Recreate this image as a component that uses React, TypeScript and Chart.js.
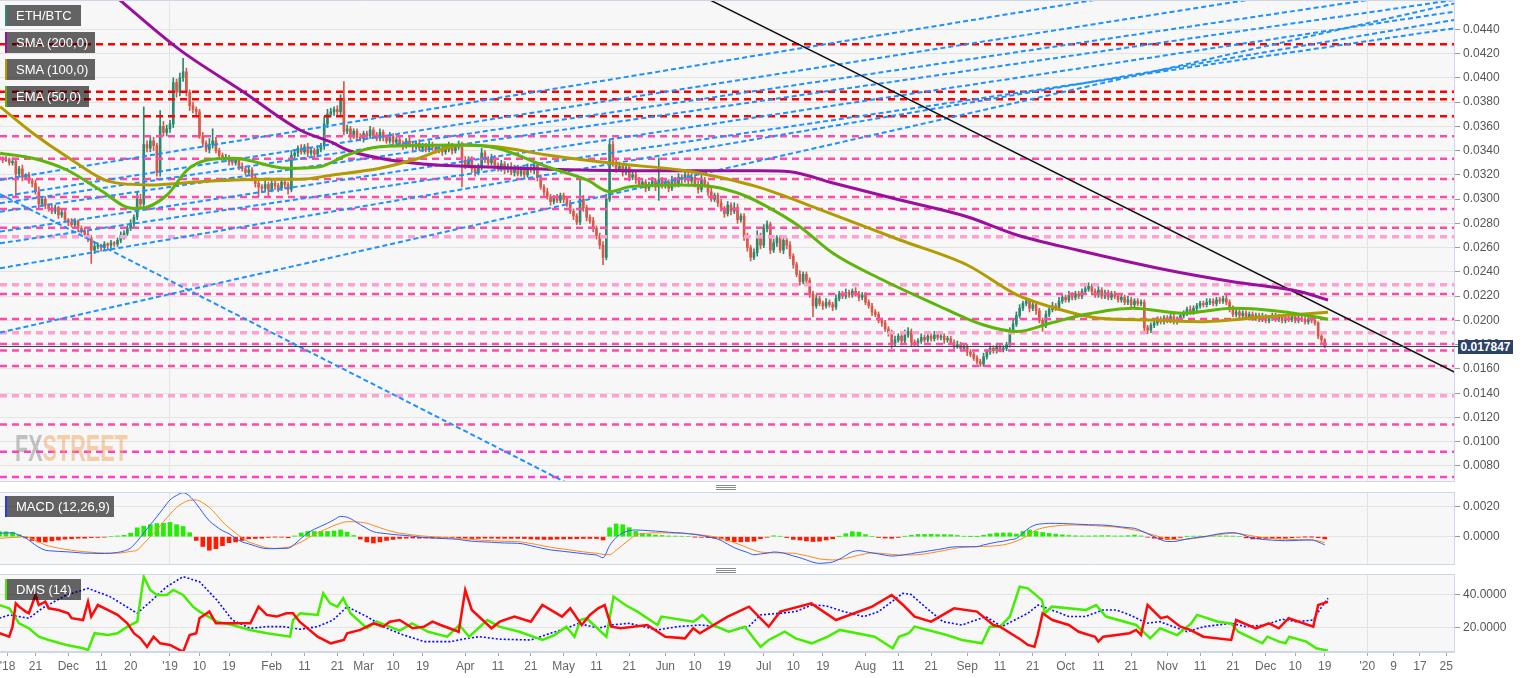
import React, { useEffect, useRef } from "react";
import { Chart, registerables } from "chart.js";
Chart.register(...registerables);

// ---------- axis ranges (days from 1 Jan 2019, prices in 1e-4 BTC) ----------
const X_MIN = -51.82;
const X_MAX = 391.4;
const FIRST_DAY = -52;
const MAIN_MIN = 66.8;
const MAIN_MAX = 464.15;
const MACD_MIN = -18.87;
const MACD_MAX = 29.8;
const DMS_MIN = 5.03;
const DMS_MAX = 52.3;

const mainTicks = [80, 100, 120, 140, 160, 180, 200, 220, 240, 260, 280, 300, 320, 340, 360, 380, 400, 420, 440];
const macdTicks = [0, 20];
const dmsTicks = [20, 40];
const yearTicks = [0, 365];
const xTickDays = [-49.5, -41, -31, -21, -12, 0, 9, 18, 31, 41, 51, 59, 68, 77, 90, 100, 110, 120, 130, 140, 151, 160, 169, 181, 190, 199, 212, 222, 232, 243, 253, 263, 273, 283, 293, 304, 314, 324, 334, 343, 352, 365, 373, 381, 389];
const xTickLabels = ["'18", "21", "Dec", "11", "20", "'19", "10", "19", "Feb", "11", "21", "Mar", "10", "19", "Apr", "11", "21", "May", "11", "21", "Jun", "10", "19", "Jul", "10", "19", "Aug", "11", "21", "Sep", "11", "21", "Oct", "11", "21", "Nov", "11", "21", "Dec", "10", "19", "'20", "9", "17", "25"];

// ---------- daily candles ETH/BTC (x1e-4) ----------
const firstOpen = 335;
const closes = [
  334, 332, 333, 330, 331, 321, 325, 318, 320, 315,
  313, 306, 296, 300, 295, 292, 290, 293, 287, 289,
  283, 281, 279, 282, 276, 274, 271, 268, 258, 261,
  262, 260, 263, 262, 264, 263, 266, 270, 272, 276,
  280, 285, 300, 296, 345, 342, 348, 344, 322, 360,
  355, 358, 362, 396, 388, 400, 405, 388, 377, 374,
  372, 352, 346, 341, 345, 348, 340, 336, 333, 334,
  331, 330, 332, 327, 325, 322, 324, 318, 313, 310,
  309, 312, 308, 313, 311, 309, 314, 312, 308, 336,
  338, 342, 339, 343, 338, 340, 337, 341, 344, 362,
  370, 372, 374, 372, 383, 356, 358, 352, 356, 351,
  350, 354, 352, 357, 353, 350, 355, 351, 348, 352,
  347, 349, 346, 344, 348, 345, 343, 346, 342, 344,
  341, 345, 343, 340, 342, 339, 341, 344, 340, 343,
  345, 332, 328, 333, 325, 322, 326, 338, 333, 330,
  334, 328, 325, 329, 324, 327, 322, 326, 321, 324,
  320, 326, 324, 328, 318, 310, 306, 302, 298, 301,
  299, 303, 300, 296, 290, 286, 281, 300, 293, 285,
  282, 276, 270, 262, 252, 300, 345, 330, 325, 327,
  322, 326, 318, 320, 316, 312, 314, 309, 312, 315,
  310, 316, 311, 314, 309, 316, 312, 318, 316, 320,
  315, 318, 312, 308, 316, 312, 306, 300, 303, 297,
  292, 288, 295, 290, 293, 283, 286, 269, 260, 252,
  256, 270, 262, 276, 279, 258, 264, 268, 258, 266,
  262, 253, 246, 238, 232, 238, 233, 222, 212, 218,
  214, 212, 215, 213, 211, 218, 222, 220, 223, 221,
  224, 222, 219, 221, 215, 212, 207, 205, 200, 198,
  193, 190, 181, 184, 187, 183, 188, 191, 182, 181,
  183, 186, 184, 187, 185, 188, 186, 187, 184, 185,
  182, 179, 180, 177, 178, 174, 172, 169, 166, 164,
  170, 174, 177, 175, 178, 176, 177, 180, 191, 197,
  204, 210, 214, 216, 210, 213, 208, 200, 196, 205,
  209, 212, 210, 216, 219, 217, 221, 219, 222, 220,
  224, 226, 228, 224, 221, 225, 220, 223, 219, 222,
  220, 217, 219, 215, 217, 213, 216, 214, 215, 194,
  192, 196, 198, 201, 199, 202, 200, 203, 199, 201,
  204, 206, 209, 207, 210, 212, 214, 213, 215, 216,
  214, 217, 216, 218, 215, 210, 205, 207, 204, 206,
  203, 205, 202, 204, 201, 203, 200, 202, 204, 201,
  203, 200, 202, 201, 203, 200, 202, 201, 199, 201,
  200, 198, 187, 184, 178.47,
];
const highWicks = [
  2, 1, 2, 1, 3, 2, 2, 3, 1, 2,
  2, 3, 4, 2, 2, 1, 3, 2, 1, 2,
  2, 1, 3, 2, 1, 2, 2, 3, 2, 3,
  2, 1, 2, 1, 2, 1, 2, 3, 2, 2,
  3, 2, 6, 4, 31, 3, 4, 3, 2, 13,
  4, 3, 3, 4, 3, 4, 11, 3, 2, 3,
  2, 2, 3, 2, 5, 10, 3, 2, 2, 3,
  2, 3, 2, 2, 3, 2, 3, 2, 2, 3,
  2, 3, 2, 3, 2, 2, 3, 2, 2, 4,
  3, 2, 3, 2, 3, 2, 2, 3, 2, 6,
  4, 3, 2, 3, 3, 14, 3, 2, 2, 2,
  3, 2, 2, 3, 2, 2, 3, 2, 2, 3,
  2, 2, 3, 2, 2, 3, 2, 2, 3, 2,
  2, 3, 2, 2, 3, 2, 2, 3, 2, 2,
  3, 2, 3, 2, 2, 3, 3, 4, 2, 2,
  3, 2, 2, 3, 2, 2, 3, 2, 2, 3,
  2, 3, 2, 3, 2, 2, 2, 3, 2, 2,
  3, 2, 2, 2, 3, 2, 2, 16, 3, 2,
  2, 3, 2, 2, 3, 4, 4, 3, 2, 3,
  2, 3, 2, 3, 2, 2, 3, 2, 2, 3,
  2, 18, 2, 3, 2, 3, 2, 3, 2, 3,
  2, 3, 2, 3, 4, 2, 2, 3, 2, 2,
  3, 2, 3, 2, 4, 3, 2, 2, 3, 2,
  3, 4, 2, 3, 3, 2, 3, 2, 2, 3,
  2, 3, 2, 2, 3, 2, 2, 2, 2, 3,
  2, 2, 3, 2, 2, 3, 2, 2, 3, 2,
  2, 3, 2, 2, 2, 2, 2, 2, 2, 2,
  2, 2, 2, 3, 2, 2, 4, 3, 2, 2,
  2, 3, 2, 2, 2, 3, 2, 2, 2, 2,
  2, 2, 3, 2, 2, 2, 2, 2, 2, 2,
  3, 2, 2, 2, 3, 2, 2, 2, 3, 3,
  3, 3, 2, 3, 2, 3, 2, 2, 2, 3,
  2, 3, 2, 3, 2, 2, 3, 2, 2, 2,
  2, 2, 3, 2, 2, 3, 2, 2, 2, 2,
  2, 2, 2, 2, 3, 2, 2, 2, 2, 2,
  2, 2, 3, 2, 2, 2, 2, 2, 2, 2,
  2, 2, 2, 3, 2, 2, 2, 2, 3, 2,
  2, 2, 2, 2, 3, 2, 2, 2, 2, 2,
  2, 2, 2, 2, 2, 3, 2, 2, 2, 2,
  2, 2, 2, 2, 2, 2, 2, 2, 2, 2,
  2, 2, 1, 2, 1,
];
const lowWicks = [
  2, 2, 1, 2, 2, 20, 2, 3, 2, 2,
  3, 2, 3, 2, 3, 2, 2, 2, 3, 2,
  2, 3, 2, 2, 3, 2, 2, 3, 11, 3,
  2, 3, 2, 2, 3, 2, 2, 2, 3, 2,
  2, 3, 2, 4, 4, 3, 3, 4, 3, 3,
  3, 3, 3, 3, 4, 3, 3, 3, 4, 3,
  3, 2, 3, 2, 3, 3, 2, 3, 2, 2,
  3, 2, 2, 3, 2, 2, 2, 3, 3, 8,
  3, 2, 6, 2, 3, 3, 2, 3, 4, 2,
  2, 3, 2, 2, 3, 2, 3, 2, 2, 3,
  3, 2, 3, 3, 3, 3, 2, 3, 2, 3,
  2, 3, 2, 2, 3, 2, 2, 3, 2, 2,
  3, 2, 2, 3, 2, 2, 3, 2, 2, 3,
  2, 2, 3, 2, 2, 3, 2, 2, 3, 2,
  2, 22, 3, 2, 3, 3, 2, 2, 3, 2,
  2, 3, 2, 2, 3, 2, 2, 3, 2, 2,
  3, 2, 2, 3, 3, 2, 3, 2, 3, 2,
  2, 2, 3, 2, 2, 3, 2, 2, 3, 3,
  2, 3, 3, 3, 6, 2, 2, 3, 3, 2,
  3, 2, 3, 2, 3, 2, 2, 3, 2, 2,
  3, 11, 2, 2, 3, 2, 2, 2, 3, 2,
  3, 2, 2, 3, 2, 2, 3, 2, 2, 3,
  2, 3, 2, 3, 2, 3, 2, 3, 3, 3,
  2, 3, 3, 2, 3, 3, 2, 3, 2, 3,
  3, 2, 3, 2, 3, 2, 3, 3, 9, 2,
  2, 3, 2, 2, 3, 2, 2, 2, 2, 2,
  2, 2, 3, 2, 2, 2, 3, 2, 2, 3,
  2, 3, 4, 2, 2, 3, 2, 2, 3, 2,
  2, 2, 2, 2, 2, 2, 2, 2, 3, 2,
  2, 3, 2, 2, 2, 3, 2, 2, 2, 2,
  2, 2, 2, 2, 2, 2, 2, 2, 2, 2,
  2, 2, 2, 2, 3, 2, 3, 2, 5, 2,
  2, 2, 2, 2, 2, 2, 2, 2, 2, 2,
  2, 2, 2, 3, 2, 2, 2, 2, 2, 2,
  2, 2, 2, 2, 2, 2, 2, 2, 2, 3,
  3, 2, 2, 2, 2, 2, 2, 2, 2, 2,
  2, 2, 2, 2, 2, 2, 2, 2, 2, 2,
  2, 2, 2, 2, 2, 3, 2, 2, 2, 2,
  2, 2, 2, 2, 2, 2, 2, 2, 2, 2,
  2, 2, 2, 2, 2, 2, 2, 2, 2, 2,
  2, 2, 2, 3, 1,
];
const lastPrice = 178.47;

// ---------- moving averages [day, value] ----------
const sma200 = [[-18.9, 472.4], [3, 423], [22.3, 388.6], [39.6, 357], [49.7, 346.3], [54, 340.5], [64, 333.7], [77.1, 329], [94.5, 326.7], [125, 324], [155.5, 323.4], [179.9, 323.4], [189, 322.6], [202.1, 313.3], [222.5, 299.3], [243, 285.5], [258.2, 270.4], [276.5, 258.1], [303.9, 241.6], [324, 231.9], [344.5, 223.7], [353, 216.8]];
const sma100 = [[-51.8, 376.2], [-41.8, 354.3], [-31.4, 335], [-18.3, 314.4], [-6.1, 311.7], [9.1, 314.4], [29.6, 316.4], [39.6, 316.4], [49.7, 319.9], [64, 325.4], [74.1, 332.3], [89.3, 344.6], [99.7, 343.2], [114.9, 336.4], [135, 329.5], [155.5, 324], [161.6, 321.3], [179.9, 309.5], [197.2, 292.4], [222.5, 266.3], [243, 245.7], [258.2, 221], [268.3, 211.3], [283.5, 201.8], [298.7, 200.4], [314, 199], [334.4, 203.1], [353, 206.7]];
const ema50 = [[-51.8, 337.8], [-41.8, 333.7], [-31.4, 324], [-21.3, 307.5], [-11.3, 292.4], [-9.1, 292.4], [-0.9, 303.4], [5.2, 324], [11.3, 332.3], [19.2, 333.7], [35.7, 325.4], [45.7, 326.7], [54, 336.4], [64, 343.2], [89.3, 344.6], [99.7, 341.9], [114.9, 326.7], [127.1, 315.8], [134.1, 306.1], [140.2, 310.2], [155.5, 311.6], [165.5, 310.2], [174.7, 303.4], [182, 293.8], [192, 277.3], [202.1, 255.4], [217.3, 233.3], [232.6, 214.1], [247.8, 196.4], [258.2, 190.8], [268.3, 197.7], [278.3, 204.5], [293.6, 210], [308.8, 205.9], [324, 210], [339.3, 207.2], [353, 201]];

// ---------- horizontal levels ----------
const redLevels = [427.6, 388.6, 382.3, 368.3];
const pinkLevels = [351.8, 333.3, 316.6, 301.8, 291.9, 276.5, 221.8, 201.2, 180.6, 175.2, 162.4, 114.1];
const lightPinkLevels = [269.0, 229.5, 189.9, 138.0];
const magentaLevels = [91.8, 71.0];

// ---------- trend lines [day1, price1, day2, price2] ----------
const blueTrends = [
  [-51.82, 315.8, 281.7, 464.15],
  [-51.82, 302.0, 328.3, 464.15],
  [-51.82, 296.6, 365.2, 464.15],
  [-51.82, 289.6, 391.4, 464.15],
  [-51.82, 273.2, 391.4, 454.5],
  [-51.82, 263.6, 391.4, 440.8],
  [-51.82, 243.0, 391.4, 447.7],
  [-51.82, 190.0, 391.4, 461.2],
  [-51.82, 304.2, 120.4, 66.8],
];
const blackTrend = [150, 483.9, 400, 145.9];

// ---------- MACD (12,26,9), every 2 days from day -52, x1e-4 ----------
const macdVals = [
  2.3, 2.5, 2.5, 1, -0.8, -4, -7, -9, -9.5, -9.8,
  -10, -10.3, -10.6, -11, -11, -11.2, -11.2, -11, -10.5, -9.5,
  -7.5, -3, 2.5, 8, 13.3, 19, 24.5, 27.5, 29.3, 27,
  22, 16, 10.5, 7, 4, 2, -1, -3.5, -4.8, -6.2,
  -7.5, -8, -8, -7.8, -7.7, -5, -1, 2.5, 5, 7,
  9, 11.3, 13.5, 13, 10.8, 8, 5.5, 3.3, 2.5, 2,
  1.5, 1.1, 0.8, 0.3, -0.3, -0.6, -0.9, -1.1, -1.3, -1.5,
  -1.8, -2.5, -3, -3.3, -3.5, -3.7, -4, -4.2, -4.3, -4.4,
  -5, -6, -7, -8, -8.8, -9.3, -9.8, -10.3, -10.8, -11.3,
  -11.8, -12.2, -14, -6, -0.5, 2.5, 4, 4.5, 4.3, 4,
  3.7, 3.4, 3, 2.7, 2.5, 2, 1.5, 0.8, 0, -1,
  -2.5, -5, -7.3, -9, -10.5, -12, -11.5, -11, -10.2, -10.5,
  -11.5, -12.8, -14, -15.5, -17, -17.8, -17.5, -16.9, -15, -12.5,
  -10, -9.3, -10, -10.8, -11.5, -12.3, -12.9, -12.6, -12, -11.3,
  -10.5, -10, -9.2, -8.6, -7.8, -7, -6.7, -6.7, -6.7, -6.6,
  -5.5, -4.5, -3.6, -3, -2, -1.2, 2.5, 6, 8, 8.6,
  8.9, 8.9, 8.8, 8.6, 8.4, 8.2, 8, 7.9, 7.8, 7.5,
  7, 6.5, 6, 5.6, 4, 2, 0, -2, -3.2, -3.2,
  -2.5, -1.5, -0.8, -0.2, 0.3, 1.2, 2, 2.5, 2.7, 2,
  0.5, -1, -1.5, -2, -2.3, -2.5, -2.7, -2.6, -2.4, -2.2,
  -2.2, -3.5, -5.5,
];
const signalVals = [
  -1.1, -0.8, -0.5, -0.3, 0, -1.5, -3.5, -5.5, -6.7, -7.6,
  -8.4, -9, -9.6, -10, -10.4, -10.7, -10.9, -11, -11, -10.5,
  -9.8, -8.9, -4.5, 0, 4.5, 10, 15, 19.5, 22.5, 24.3,
  24.5, 22.5, 19.5, 15, 10, 6, 2.5, -1, -3.5, -5,
  -6.5, -7.5, -7.8, -7.5, -7, -5.5, -3.5, -1, 1.5, 3.5,
  5.5, 7.5, 9, 10, 10, 9.6, 9, 7.5, 6, 4.5,
  3.3, 2.3, 1.8, 1.2, 0.7, 0.3, 0, -0.3, -0.6, -0.9,
  -1.1, -1.5, -1.8, -2.2, -2.5, -2.7, -2.9, -3.1, -3.2, -3.3,
  -3.8, -4.5, -5.3, -6.2, -7, -7.7, -8.3, -8.9, -9.5, -10.1,
  -10.6, -11, -11.8, -12, -9, -5.5, -2, 1, 2, 2.4,
  2.6, 2.6, 2.5, 2.3, 2.2, 2, 1.7, 1.2, 0.6, 0,
  -1, -2.3, -4, -5.6, -7.3, -9, -10.2, -10.6, -10.8, -10.8,
  -10.9, -11, -11.8, -12.7, -13.8, -14.8, -15.3, -15.5, -15.2, -14.5,
  -13.4, -12.3, -11.4, -10.8, -11, -11.4, -11.8, -12.1, -12.2, -12.2,
  -12, -11.5, -10.8, -10, -9.2, -8.3, -7.5, -7, -6.8, -6.7,
  -6.5, -6.3, -6, -5.5, -4.5, -3, -1, 1.5, 4.5, 5.8,
  6.7, 7.2, 7.6, 7.8, 7.8, 7.7, 7.5, 7.3, 7.1, 6.8,
  6.5, 6, 5.3, 4.5, 3.5, 2.3, 1, -0.3, -1.4, -1.9,
  -2, -1.7, -1.2, -0.6, 0, 0.8, 1.5, 2, 2.3, 2,
  1.3, 0.5, -0.2, -0.8, -1.2, -1.5, -1.7, -1.9, -2, -2.1,
  -2.1, -2.8, -4,
];
const MACD_STEP = 2;

// ---------- DMS (14) [day, value] ----------
const dmsMinus = [[-52, 16.4], [-49, 14.3], [-48, 20.4], [-47, 34.5], [-46, 32.5], [-44, 29.5], [-43, 28.5], [-41, 39.6], [-40, 33.5], [-38, 35.5], [-37, 31.5], [-34, 30.5], [-31, 28.5], [-30, 25.5], [-26.5, 24.4], [-25, 35.5], [-24, 26.5], [-22, 33.5], [-19, 30.5], [-16, 27.5], [-13, 22.4], [-11, 16.4], [-9, 13.3], [-7, 8.2], [-5, 14.3], [-3, 10.3], [0, 9.3], [3, 6.2], [4, 5.2], [6, 15.3], [8, 16.4], [9, 25.5], [12, 29.5], [14, 22.4], [19, 22.4], [24.5, 22.4], [27, 32.5], [29.5, 27.5], [32.5, 26.5], [35.5, 28.5], [37.5, 28.5], [39.5, 23.4], [45, 14.3], [49, 10.3], [53, 12.3], [54, 16.4], [58, 18.4], [62, 22.4], [65, 20.4], [67, 23.4], [70, 24.4], [74, 19.4], [77.5, 20.4], [80, 23.4], [82.5, 21.4], [88, 17.3], [90, 42.6], [92, 30.5], [98, 19.4], [100.5, 23.4], [105, 26.5], [110, 23.4], [113.5, 33.5], [119.5, 26.5], [122, 31.5], [125.5, 21.4], [128, 27.5], [130.5, 31.5], [132.5, 33.5], [134.5, 20.4], [137.5, 19.4], [145.5, 21.4], [151, 14.3], [157, 13.3], [159.5, 19.4], [161.5, 16.4], [170, 26.5], [176.5, 32.5], [182.5, 20.4], [186, 29.5], [195.5, 34.5], [203, 24.4], [214, 32.5], [220, 39.6], [223.5, 33.5], [227, 26.5], [232, 23.4], [239, 31.5], [246, 29.5], [251, 21.4], [253, 20.4], [259.5, 12.3], [261.5, 9.3], [263.5, 8.2], [264.5, 15.3], [266, 28.5], [269, 24.4], [274, 21.4], [277, 17.3], [282, 14.3], [283, 11.3], [284.5, 14.3], [292.5, 16.4], [294.5, 18.4], [296, 15.3], [298, 33.5], [302, 25.5], [304, 26.5], [308, 20.4], [311, 18.4], [315, 14.3], [323.5, 12.3], [325, 24.4], [331, 19.4], [335, 22.4], [338, 19.4], [341, 25.5], [348.5, 20.4], [350, 33.5], [351.5, 34.5], [353, 35.5]];
const dmsPlus = [[-52, 33.5], [-49, 31.5], [-46, 22.4], [-43, 19.4], [-40, 14.3], [-37, 12.3], [-31.5, 9.3], [-26.5, 7.3], [-25, 6.2], [-23, 16.4], [-19, 15.3], [-16, 16.4], [-13, 20.4], [-10, 23.4], [-8, 50.7], [-6, 42.6], [-4, 39.6], [-1, 39.6], [1, 42.6], [4, 39.6], [7, 32.5], [9, 29.5], [14.3, 23.4], [19, 21.4], [24.4, 18.4], [29.6, 16.4], [36.6, 14.3], [37.5, 24.4], [39.7, 28.5], [45, 27.5], [46.7, 40.6], [48.8, 34.5], [51, 32.5], [52.8, 37.6], [55, 28.5], [60, 19.4], [63, 23.4], [70, 18], [73.8, 22.4], [78.7, 17.3], [84.5, 14.3], [88.2, 21.4], [91.2, 14.3], [96.7, 24.4], [100.4, 20.4], [106.5, 17.3], [113.5, 12.3], [117.2, 15.3], [120.8, 20.4], [123.3, 14.3], [125.1, 24.4], [127, 25.5], [133, 14.3], [135.2, 38.6], [138.8, 33.5], [142.5, 29.5], [148.6, 21.4], [149.8, 26.5], [159.6, 23.4], [162.3, 27.5], [165.4, 21.4], [170.3, 17.3], [175.2, 20.4], [180, 8.2], [182.5, 12.3], [187.4, 17.3], [190.7, 13.3], [195.6, 10.3], [200.5, 14.3], [204.2, 18.4], [214.8, 14.3], [220.3, 7.3], [222.2, 14.3], [225.2, 16.4], [227, 20.4], [236.8, 15.3], [241.4, 12.3], [247.5, 10.3], [249.9, 20.4], [253, 20.4], [256, 26.5], [259, 44.6], [261.5, 43.6], [265.8, 36.5], [266.7, 28.5], [268.8, 32.5], [279.2, 30.5], [282.3, 33.5], [285.3, 26.5], [294.5, 21.4], [298.8, 13.3], [301.8, 19.4], [307, 15.3], [311.3, 22.4], [313.1, 27.5], [319.5, 23.4], [323.5, 22.4], [325.6, 17.3], [333, 10.3], [334.5, 14.3], [338.1, 11.3], [340, 10.3], [341.2, 14.3], [346.4, 11.3], [349.4, 7.3], [353, 5.8]];
const dmsAdx = [[-52, 25.5], [-49, 27.5], [-43, 25.5], [-39, 31.5], [-31.5, 39.6], [-25, 43.6], [-18.3, 38.6], [-10, 28.5], [-6, 35.5], [-1, 44.6], [4, 50.7], [9, 47.6], [14.3, 36.5], [19, 24.4], [24.4, 19.4], [29.6, 20.4], [34.5, 20.4], [39.7, 18.8], [45, 20.4], [49.7, 24.4], [54, 32.5], [60, 26.5], [65, 20.4], [70.2, 16], [77.5, 11.3], [85.5, 11.3], [90.6, 13.3], [94.3, 14.3], [100.4, 12.8], [110, 12.3], [116, 16.4], [120.8, 19.4], [124.5, 22.4], [130.6, 19.4], [134.3, 21.4], [140, 22.4], [148.6, 18.4], [154.7, 20.4], [161.7, 21.4], [166.6, 20.4], [170.3, 17.3], [176.4, 20.4], [180, 27.5], [186.1, 28.5], [190.7, 29.5], [195.6, 33.5], [200, 33], [205.4, 29.5], [211.5, 26.5], [216, 29.5], [223.4, 40.6], [225.8, 40], [230.7, 31.5], [235.6, 23.4], [241.4, 21.4], [248.7, 26.5], [253.6, 20.4], [261.5, 28.5], [264.6, 33.5], [268.8, 30.5], [274, 26.5], [279, 26.5], [284.4, 30.5], [288.4, 30.5], [292.6, 27.5], [297.8, 22.4], [301.8, 23.4], [310, 17.3], [315.2, 20.4], [323.5, 22.4], [327.8, 20.4], [334, 21.4], [339, 24.9], [343.3, 23.4], [348.5, 24.4], [350.4, 30.5], [353, 37.6]];

// ---------- styling ----------
const FONT = "'Liberation Sans', Arial, sans-serif";
const UP = "#2b8a6d";
const DOWN = "#d9584a";
const PANEL_BG = "#f7f7f7";
const PANEL_BORDER = "#cfd7e6";
const GRID = "#e3e3e3";

const pts = (arr: number[][]) => arr.map(([x, y]) => ({ x, y }));

const panelPlugin = {
  id: "panelBg",
  beforeDraw(chart: any) {
    const { ctx, chartArea: a } = chart;
    ctx.save();
    ctx.fillStyle = PANEL_BG;
    ctx.fillRect(a.left, a.top, a.right - a.left, a.bottom - a.top);
    ctx.restore();
  },
  afterDraw(chart: any) {
    const { ctx, chartArea: a } = chart;
    ctx.save();
    ctx.strokeStyle = PANEL_BORDER;
    ctx.lineWidth = 1;
    ctx.beginPath();
    ctx.moveTo(a.left, a.top + 0.5);
    ctx.lineTo(a.right, a.top + 0.5);
    ctx.moveTo(a.left, a.bottom - 0.5);
    ctx.lineTo(a.right, a.bottom - 0.5);
    ctx.stroke();
    ctx.restore();
  },
};

function yAxis(min: number, max: number, vals: number[], fmt: (v: number) => string) {
  return {
    type: "linear",
    position: "right",
    min,
    max,
    afterBuildTicks: (s: any) => {
      s.ticks = vals.map((v) => ({ value: v }));
    },
    afterFit: (s: any) => {
      s.width = 77;
      s.paddingTop = 0;
      s.paddingBottom = 0;
    },
    ticks: { callback: (v: any) => fmt(Number(v)), color: "#555", font: { family: FONT, size: 12 }, padding: 3, autoSkip: false },
    grid: { color: GRID, tickColor: "#999", tickLength: 6, lineWidth: 1 },
    border: { color: PANEL_BORDER },
  };
}

function xHidden() {
  return {
    type: "linear",
    min: X_MIN,
    max: X_MAX,
    offset: false,
    afterBuildTicks: (s: any) => {
      s.ticks = yearTicks.map((v) => ({ value: v }));
    },
    afterFit: (s: any) => {
      s.height = 0;
      s.paddingLeft = 0;
      s.paddingRight = 0;
    },
    ticks: { display: false },
    grid: { color: GRID, drawTicks: false, offset: false },
    border: { display: false },
  };
}

function xShown() {
  return {
    type: "linear",
    min: X_MIN,
    max: X_MAX,
    offset: false,
    afterBuildTicks: (s: any) => {
      s.ticks = xTickDays.map((v) => ({ value: v }));
    },
    afterFit: (s: any) => {
      s.height = 26;
      s.paddingLeft = 0;
      s.paddingRight = 0;
    },
    ticks: {
      autoSkip: false,
      maxRotation: 0,
      minRotation: 0,
      padding: 3,
      color: "#666",
      font: { family: FONT, size: 12 },
      callback: (_v: any, i: number) => xTickLabels[i],
    },
    grid: {
      color: (c: any) => (c.tick && yearTicks.includes(c.tick.value) ? GRID : "rgba(0,0,0,0)"),
      tickColor: "#aaa",
      tickLength: 4,
      offset: false,
    },
    border: { color: PANEL_BORDER },
  };
}

const baseOptions = {
  responsive: false,
  animation: false,
  events: [],
  layout: { padding: 0 },
  plugins: { legend: { display: false }, tooltip: { enabled: false } },
};

function lineDs(data: any[], color: string, width: number, order: number, extra: any = {}) {
  return { type: "line", data, borderColor: color, borderWidth: width, pointRadius: 0, fill: false, order, ...extra };
}

function mainConfig() {
  const candles = closes.map((c, i) => {
    const o = i === 0 ? firstOpen : closes[i - 1];
    return { d: FIRST_DAY + i, o, c, h: Math.max(o, c) + highWicks[i], l: Math.min(o, c) - lowWicks[i] };
  });
  const colors = candles.map((k) => (k.c >= k.o ? UP : DOWN));
  const flat = (v: number) => [{ x: X_MIN, y: v }, { x: X_MAX, y: v }];
  const datasets: any[] = [
    { type: "bar", data: candles.map((k) => ({ x: k.d, y: [k.l, k.h] })), backgroundColor: colors, barThickness: 1, grouped: false, order: 100 },
    { type: "bar", data: candles.map((k) => ({ x: k.d, y: [k.o, k.c] })), backgroundColor: colors, barThickness: 2, minBarLength: 1, grouped: false, order: 99 },
  ];
  redLevels.forEach((v) => datasets.push(lineDs(flat(v), "#ff0000", 2.5, 50, { borderDash: [7, 5] })));
  pinkLevels.forEach((v) => datasets.push(lineDs(flat(v), "#ff4aa8", 2.5, 50, { borderDash: [7, 5] })));
  lightPinkLevels.forEach((v) => datasets.push(lineDs(flat(v), "#ff9fd2", 3.5, 50, { borderDash: [7, 5] })));
  magentaLevels.forEach((v) => datasets.push(lineDs(flat(v), "#ff3fc8", 2.5, 50, { borderDash: [7, 5] })));
  blueTrends.forEach(([x1, y1, x2, y2]) =>
    datasets.push(lineDs([{ x: x1, y: y1 }, { x: x2, y: y2 }], "#1e90ff", 2, 40, { borderDash: [5, 3] }))
  );
  datasets.push(lineDs([{ x: blackTrend[0], y: blackTrend[1] }, { x: blackTrend[2], y: blackTrend[3] }], "#111111", 1.5, 35));
  datasets.push(lineDs(pts(sma200), "#9a0f9c", 3, 22, { cubicInterpolationMode: "monotone" }));
  datasets.push(lineDs(pts(sma100), "#b19b00", 3, 21, { cubicInterpolationMode: "monotone" }));
  datasets.push(lineDs(pts(ema50), "#5eb40a", 3, 20, { cubicInterpolationMode: "monotone" }));
  datasets.push(lineDs(flat(lastPrice), "#2c4266", 1, 10));
  return {
    type: "bar",
    data: { datasets },
    options: {
      ...baseOptions,
      scales: {
        x: xHidden(),
        y: yAxis(MAIN_MIN, MAIN_MAX, mainTicks, (v) => (v / 10000).toFixed(4)),
      },
    },
    plugins: [panelPlugin],
  };
}

function macdConfig() {
  const days = macdVals.map((_, i) => FIRST_DAY + i * MACD_STEP);
  const hist = macdVals.map((m, i) => m - signalVals[i]);
  return {
    type: "bar",
    data: {
      datasets: [
        {
          type: "bar",
          data: hist.map((h, i) => ({ x: days[i], y: h })),
          backgroundColor: hist.map((h) => (h >= 0 ? "#22ee00" : "#ff1a00")),
          barThickness: 4,
          grouped: false,
          order: 30,
        },
        lineDs(signalVals.map((v, i) => ({ x: days[i], y: v })), "#ff8a1c", 1, 20, { cubicInterpolationMode: "monotone" }),
        lineDs(macdVals.map((v, i) => ({ x: days[i], y: v })), "#2f5bff", 1, 10, { cubicInterpolationMode: "monotone" }),
      ],
    },
    options: {
      ...baseOptions,
      scales: {
        x: xHidden(),
        y: yAxis(MACD_MIN, MACD_MAX, macdTicks, (v) => (v / 10000).toFixed(4)),
      },
    },
    plugins: [panelPlugin],
  };
}

function dmsConfig() {
  return {
    type: "line",
    data: {
      datasets: [
        lineDs(pts(dmsAdx), "#0a0aff", 1.6, 30, { borderDash: [2, 2] }),
        lineDs(pts(dmsPlus), "#44ee00", 2.5, 20),
        lineDs(pts(dmsMinus), "#ff0a0a", 2.5, 10),
      ],
    },
    options: {
      ...baseOptions,
      scales: {
        x: xShown(),
        y: yAxis(DMS_MIN, DMS_MAX, dmsTicks, (v) => v.toFixed(4)),
      },
    },
    plugins: [panelPlugin],
  };
}

const labelBox = (top: number, width: number, stripe: string, text: string) => (
  <div
    key={text}
    style={{
      position: "absolute",
      left: 5,
      top,
      width,
      height: 21,
      boxSizing: "border-box",
      background: "rgba(0,0,0,0.6)",
      borderLeft: `2px solid ${stripe}`,
      color: "#fff",
      font: `13px ${FONT}`,
      lineHeight: "21px",
      paddingLeft: 9,
      whiteSpace: "nowrap",
    }}
  >
    {text}
  </div>
);

const handle = (top: number) => (
  <div key={top} style={{ position: "absolute", left: 716, top, width: 20 }}>
    {[0, 2, 4].map((o) => (
      <div key={o} style={{ position: "absolute", left: 0, top: o, width: 20, height: 1, background: "#8a8a8a" }} />
    ))}
  </div>
);

export default function App() {
  const mainRef = useRef<HTMLCanvasElement>(null);
  const macdRef = useRef<HTMLCanvasElement>(null);
  const dmsRef = useRef<HTMLCanvasElement>(null);

  useEffect(() => {
    const charts = [
      new Chart(mainRef.current as any, mainConfig() as any),
      new Chart(macdRef.current as any, macdConfig() as any),
      new Chart(dmsRef.current as any, dmsConfig() as any),
    ];
    return () => charts.forEach((c) => c.destroy());
  }, []);

  return (
    <div style={{ position: "absolute", left: 0, top: 0, width: 1531, height: 678, background: "#fff", overflow: "hidden", fontFamily: FONT }}>
      <canvas ref={mainRef} width={1531} height={482} style={{ position: "absolute", left: 0, top: 0, width: 1531, height: 482 }} />
      <canvas ref={macdRef} width={1531} height={73} style={{ position: "absolute", left: 0, top: 492, width: 1531, height: 73 }} />
      <canvas ref={dmsRef} width={1531} height={104} style={{ position: "absolute", left: 0, top: 574, width: 1531, height: 104 }} />

      <div
        style={{
          position: "absolute",
          left: 15,
          top: 431,
          font: `bold 36px ${FONT}`,
          lineHeight: "36px",
          transform: "scaleX(0.6)",
          transformOrigin: "0 0",
          opacity: 0.5,
          whiteSpace: "nowrap",
        }}
      >
        <span style={{ color: "#8a8a8a" }}>FX</span>
        <span style={{ color: "#f2a35e" }}>STREET</span>
      </div>

      {labelBox(5, 76, "#2a8a7c", "ETH/BTC")}
      {labelBox(32, 90, "#9a0f9c", "SMA (200,0)")}
      {labelBox(59, 90, "#b19b00", "SMA (100,0)")}
      {labelBox(86, 84, "#5eb40a", "EMA (50,0)")}
      {labelBox(496, 109, "#1f3cff", "MACD (12,26,9)")}
      {labelBox(579, 76, "#44ee00", "DMS (14)")}

      {handle(485)}
      {handle(568)}

      <div style={{ position: "absolute", left: 1454, top: 346, width: 4, height: 1, background: "#2c4266" }} />
      <div style={{ position: "absolute", left: 1458, top: 340, width: 55, height: 14, background: "#2c4266", color: "#fff", font: `bold 12px ${FONT}`, lineHeight: "14px", textAlign: "center" }}>
        0.017847
      </div>
    </div>
  );
}
